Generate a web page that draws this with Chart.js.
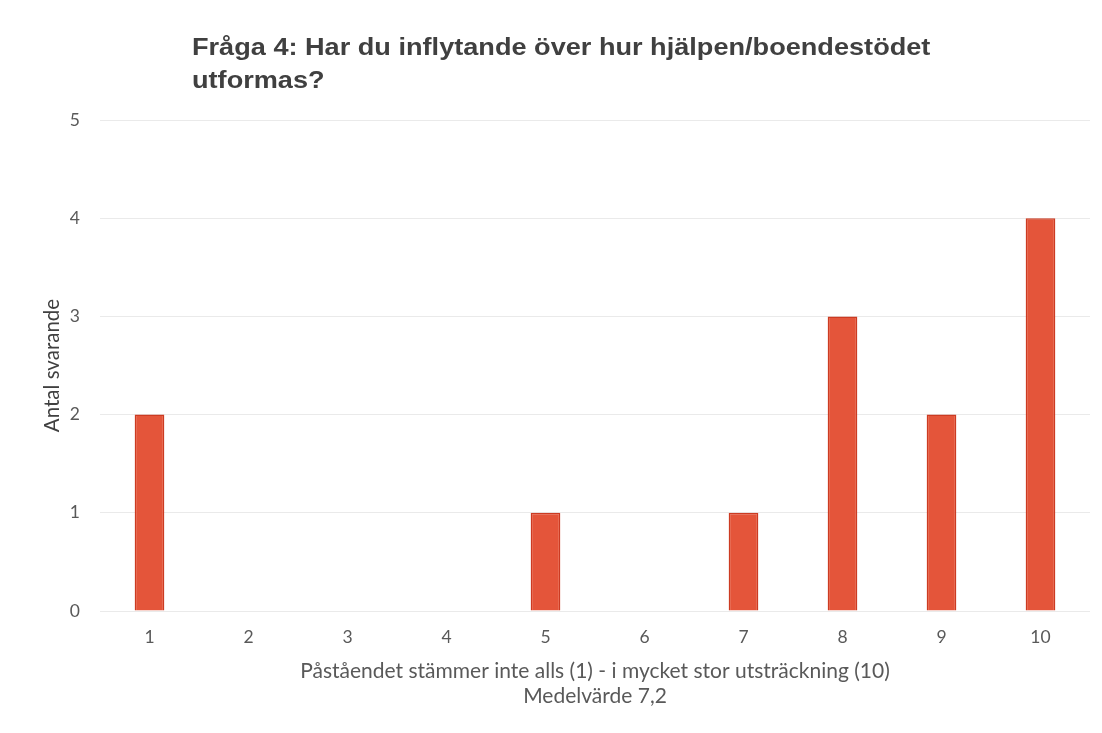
<!DOCTYPE html>
<html>
<head>
<meta charset="utf-8">
<script src="https://cdn.jsdelivr.net/npm/chart.js@4.4.0/dist/chart.umd.min.js"></script>
<style>
  html, body { margin: 0; padding: 0; background: #fff; }
  #wrap { width: 1102px; height: 733px; }
</style>
</head>
<body>
<div id="wrap"><canvas id="myChart" width="1102" height="733"></canvas></div>
<script>
// data
var categories = ['1', '2', '3', '4', '5', '6', '7', '8', '9', '10'];
var answers = [2, 0, 0, 0, 1, 0, 1, 3, 2, 4];
var yTicks = [0, 1, 2, 3, 4, 5];
var titleLines = ['Fråga 4: Har du inflytande över hur hjälpen/boendestödet', 'utformas?'];
var xTitle = ['Påståendet stämmer inte alls (1) - i mycket stor utsträckning (10)', 'Medelvärde 7,2'];
var yTitle = 'Antal svarande';

// title drawn left aligned a bit in from the plot area, the scan is a bit wide so stretch it
var leftTitle = {
  id: 'leftTitle',
  afterDraw: function(chart) {
    var ctx = chart.ctx;
    ctx.save();
    ctx.translate(chart.chartArea.left + 92, 0);
    ctx.scale(1.13, 1);
    ctx.fillStyle = '#404040';
    ctx.font = 'bold 24px "Liberation Sans", Arial, sans-serif';
    ctx.textBaseline = 'alphabetic';
    ctx.textAlign = 'left';
    for (var i = 0; i < titleLines.length; i++) {
      ctx.fillText(titleLines[i], 0, 55 + i * 33);
    }
    ctx.restore();
  }
};

var ctx = document.getElementById('myChart').getContext('2d');
var chart = new Chart(ctx, {
  type: 'bar',
  data: {
    labels: categories,
    datasets: [{
      label: yTitle,
      data: answers,
      backgroundColor: '#e4553a',
      borderColor: '#cc3b22',
      borderWidth: 1.5,
      barPercentage: 0.6,
      categoryPercentage: 0.5
    }]
  },
  options: {
    responsive: false,
    animation: false,
    layout: { padding: { top: 120, right: 12, left: 0, bottom: 0 } },
    plugins: {
      legend: { display: false },
      tooltip: { enabled: false },
      title: { display: false }
    },
    scales: {
      x: {
        grid: { display: false, drawTicks: false },
        border: { display: false },
        ticks: {
          color: '#595959',
          padding: 16,
          font: { family: 'Lato, "Open Sans", sans-serif', size: 17.5 }
        },
        title: {
          display: true,
          text: xTitle,
          color: '#595959',
          padding: { top: 0, bottom: 24 },
          font: { family: 'Lato, "Open Sans", sans-serif', size: 21, lineHeight: 1.2 }
        },
        afterFit: function(scale) { scale.height = 122; }
      },
      y: {
        min: 0,
        max: 5,
        afterBuildTicks: function(scale) {
          scale.ticks = yTicks.map(function(v) { return { value: v }; });
        },
        grid: { color: '#eaeaea', drawTicks: false, lineWidth: 1 },
        border: { display: false },
        ticks: {
          color: '#595959',
          padding: 20,
          font: { family: 'Lato, "Open Sans", sans-serif', size: 17.5 }
        },
        title: {
          display: true,
          text: yTitle,
          color: '#404040',
          padding: { top: 40, bottom: 0 },
          font: { family: 'Lato, "Open Sans", sans-serif', size: 20.5, lineHeight: 1.2 }
        },
        afterFit: function(scale) { scale.width = 100; }
      }
    }
  },
  plugins: [leftTitle]
});
</script>
</body>
</html>
